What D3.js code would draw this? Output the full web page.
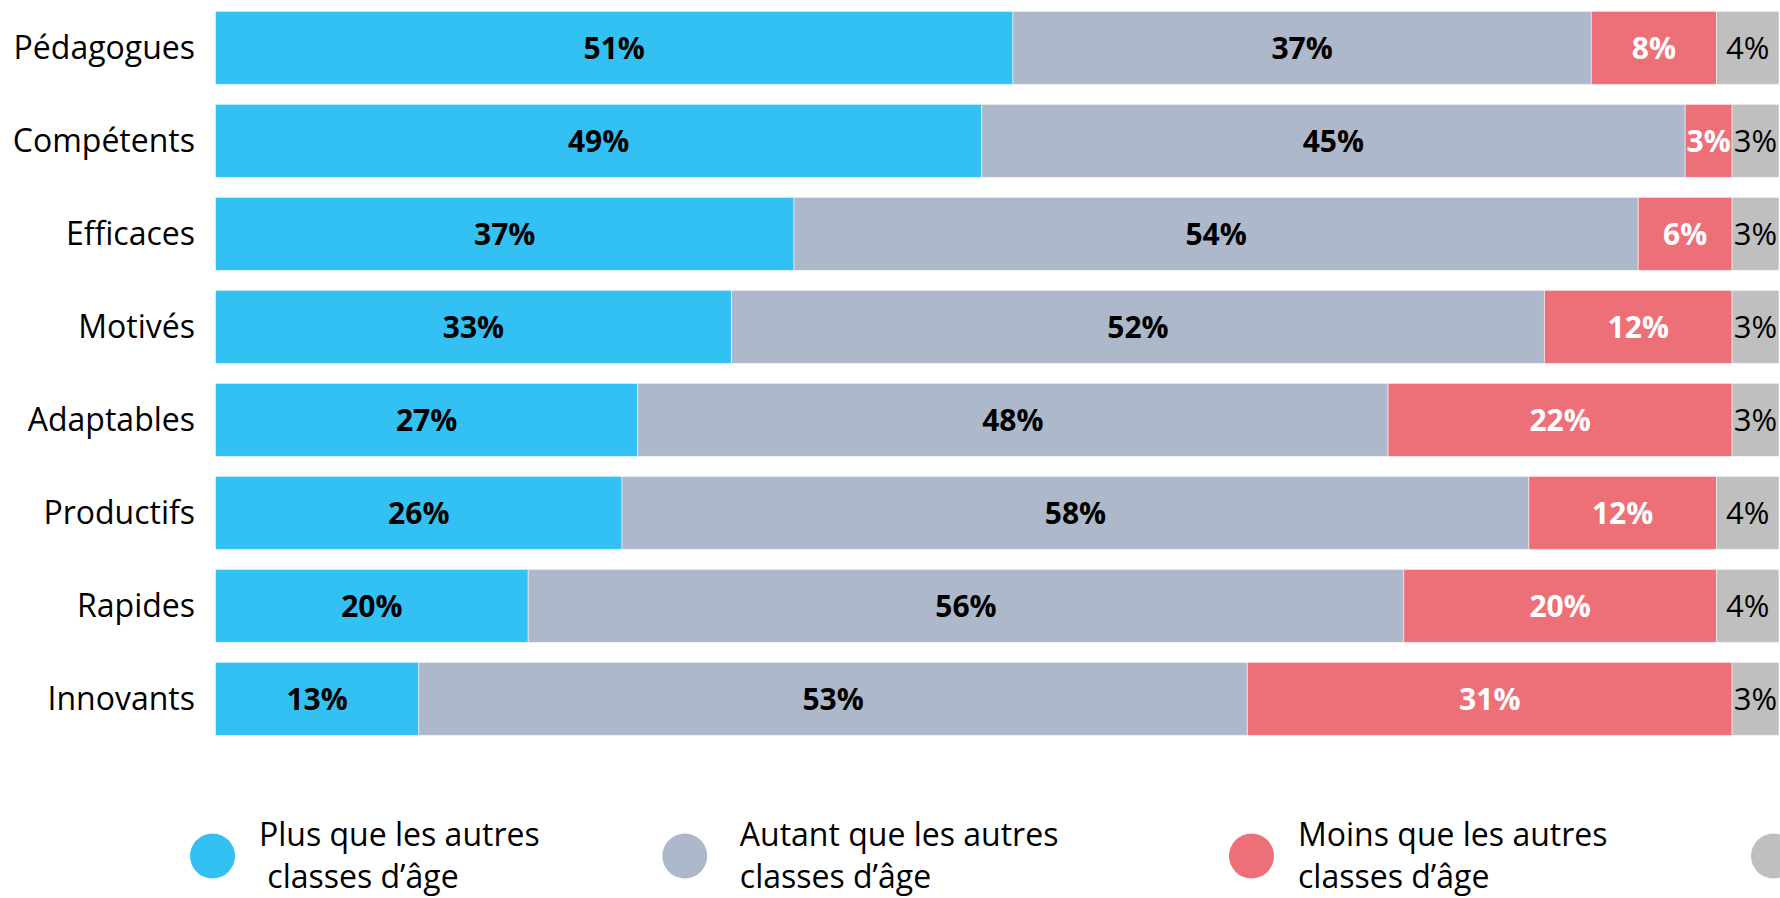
<!DOCTYPE html>
<html>
<head>
<meta charset="utf-8">
<script src="https://cdn.jsdelivr.net/npm/d3@7"></script>
<style>
  html, body {
    margin: 0;
    padding: 0;
    background: #fff;
  }
  svg {
    display: block;
    font-family: "Open Sans", "Noto Sans", sans-serif;
  }
</style>
</head>
<body>
<div id="chart"></div>
<script>

/* ========================================================================== */
/* =========================== Data ========================================= */

var categories = ["Pédagogues", "Compétents", "Efficaces", "Motivés", "Adaptables", "Productifs", "Rapides", "Innovants"];

var plusValues = [51, 49, 37, 33, 27, 26, 20, 13];
var autantValues = [37, 45, 54, 52, 48, 58, 56, 53];
var moinsValues = [8, 3, 6, 12, 22, 12, 20, 31];
var nspValues = [4, 3, 3, 3, 3, 4, 4, 3];

var seriesNames = [
  ["Plus que les autres", " classes d’âge"],
  ["Autant que les autres", "classes d’âge"],
  ["Moins que les autres", "classes d’âge"],
  ["Ne se prononcent pas", ""]
];

/* ========================================================================== */
/* =========================== Variables ==================================== */

var width = 1780;
var height = 898;

var seriesColors = ["#33c1f4", "#adb9ca", "#ed6f78", "#bfbfbf"];
var labelColors = ["#000", "#000", "#fff", "#000"];
var labelWeights = ["bold", "bold", "bold", "normal"];

var svg = d3.select("#chart").append("svg")
    .attr("width", width)
    .attr("height", height);

var x = d3.scaleLinear()
    .domain([0, 100])
    .range([215.5, 1779]);

var y = d3.scaleBand()
    .domain(categories)
    .range([1.4, 745.4])
    .paddingInner(0.215)
    .paddingOuter(0.1075);

// one row object per category, used by d3.stack
var rows = categories.map(function (cat, i) {
    return {
        cat: cat,
        s0: plusValues[i],
        s1: autantValues[i],
        s2: moinsValues[i],
        s3: nspValues[i]
    };
});

var stack = d3.stack().keys(["s0", "s1", "s2", "s3"]);
var layers = stack(rows);

/* ========================================================================== */
/* =========================== Bars ========================================= */

var layerG = svg.selectAll("g.layer")
    .data(layers)
    .enter().append("g")
    .attr("class", "layer");

layerG.selectAll("rect")
    .data(function (d) { return d; })
    .enter().append("rect")
    .attr("x", function (d) { return x(d[0]); })
    .attr("y", function (d) { return y(d.data.cat); })
    .attr("width", function (d) { return x(d[1]) - x(d[0]); })
    .attr("height", y.bandwidth())
    .attr("fill", function (d, i, nodes) {
        return seriesColors[d3.select(nodes[i].parentNode).datum().index];
    })
    .attr("stroke", "#fff")
    .attr("stroke-opacity", 0.5)
    .attr("stroke-width", 1);

// value labels, centred in each segment
layerG.selectAll("text")
    .data(function (d) { return d; })
    .enter().append("text")
    .attr("x", function (d) { return (x(d[0]) + x(d[1])) / 2; })
    .attr("y", function (d) { return y(d.data.cat) + y.bandwidth() / 2; })
    .attr("dy", "0.36em")
    .attr("text-anchor", "middle")
    .each(function (d) {
        var k = d3.select(this.parentNode).datum().index;
        d3.select(this)
            .attr("fill", labelColors[k])
            .attr("font-weight", labelWeights[k])
            .attr("font-size", k == 3 ? "31px" : "30px");
    })
    .text(function (d) { return (d[1] - d[0]) + "%"; });

/* ========================================================================== */
/* =========================== Category labels ============================== */

var yAxis = d3.axisLeft(y).tickSize(0).tickPadding(0);

var axisG = svg.append("g")
    .attr("transform", "translate(195,0)")
    .call(yAxis);

axisG.select(".domain").remove();
axisG.selectAll("text")
    .attr("font-family", "\"Open Sans\", \"Noto Sans\", sans-serif")
    .attr("font-size", "32px")
    .attr("fill", "#000")
    .attr("dy", "0.36em");

/* ========================================================================== */
/* =========================== Legend ======================================= */

var legendX = [212.5, 684.8, 1251.5, 1773.5];
var legendY = 856;
var textOffset = [46.5, 55, 46.5, 46.5];

var legend = svg.selectAll("g.legend")
    .data(seriesNames)
    .enter().append("g")
    .attr("class", "legend")
    .attr("transform", function (d, i) { return "translate(" + legendX[i] + "," + legendY + ")"; });

legend.append("circle")
    .attr("r", 22.5)
    .attr("fill", function (d, i) { return seriesColors[i]; });

// the last legend entry sits past the right edge, only its dot shows
var legendText = legend.filter(function (d, i) { return legendX[i] + textOffset[i] < width; })
    .append("text")
    .attr("x", function (d, i) { return textOffset[i]; })
    .attr("y", -10)
    .attr("font-size", "32px")
    .attr("fill", "#000")
    .style("white-space", "pre");

legendText.append("tspan")
    .text(function (d) { return d[0]; });

legendText.append("tspan")
    .attr("x", function (d, i) { return textOffset[i]; })
    .attr("dy", 42)
    .text(function (d) { return d[1]; });

</script>
</body>
</html>
